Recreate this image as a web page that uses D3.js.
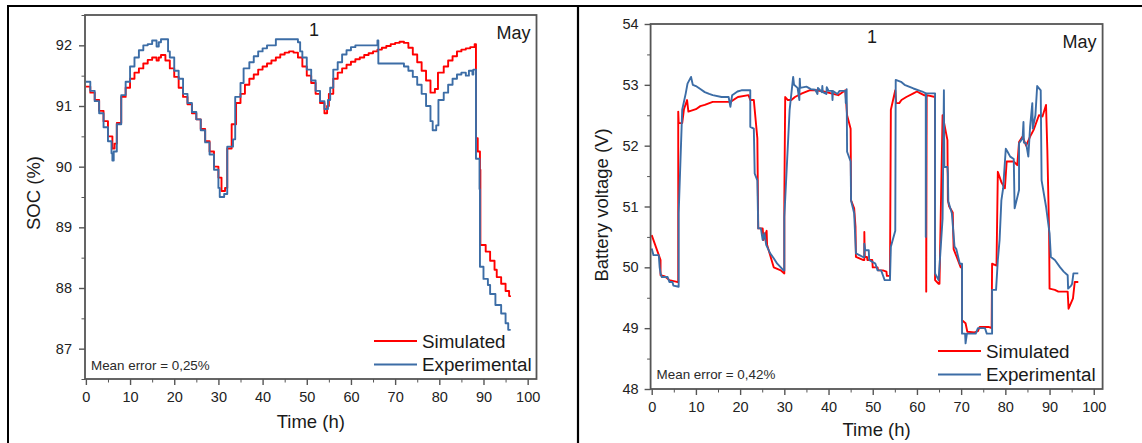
<!DOCTYPE html>
<html>
<head>
<meta charset="utf-8">
<script src="https://cdn.jsdelivr.net/npm/d3@7"></script>
<style>
  html, body { margin: 0; padding: 0; background: #fff; }
  svg { display: block; font-family: "Liberation Sans", Arial, sans-serif; }
  .axis path, .axis line { stroke: #555; }
  .axis text { fill: #222; font-size: 14.5px; }
</style>
</head>
<body>
<svg id="chart" width="1142" height="443"></svg>
<script>
// ---- Data: state of charge (%) over time (h) ----
const socSimulated = [
  [0,91.32],[1,91.22],[2,91.1],[3,90.92],[4,90.75],[5,90.5],[6,90.3],[6.5,90.38],[7,90.72],[8,91.15],
  [9,91.3],[10,91.45],[11,91.55],[12,91.62],[13,91.7],[14,91.76],[15,91.8],[16,91.75],[16.5,91.8],[17,91.84],
  [18,91.75],[19,91.62],[20,91.48],[21,91.3],[22,91.15],[23,91.03],[24,90.88],[25,90.78],[26,90.62],[27,90.42],
  [28,90.25],[29,90.0],[30,89.82],[30.7,89.6],[31.5,89.65],[32,90.3],[33,90.7],[34,91.05],[35,91.2],[36,91.35],
  [37,91.45],[38,91.52],[39,91.6],[40,91.65],[41,91.7],[42,91.75],[43,91.8],[44,91.85],[45,91.88],[46,91.9],
  [47,91.88],[48,91.8],[49,91.65],[50,91.5],[51,91.38],[52,91.2],[53,91.05],[54,90.88],[54.6,91.0],[55,91.2],
  [56,91.45],[57,91.55],[58,91.62],[59,91.68],[60,91.73],[61,91.77],[62,91.8],[63,91.84],[64,91.87],[65,91.9],
  [66,91.93],[67,91.96],[68,91.99],[69,92.02],[70,92.04],[71,92.06],[72,92.04],[73,91.96],[74,91.85],[75,91.72],
  [76,91.58],[77,91.42],[78,91.22],[79,91.28],[79.7,91.55],[81,91.65],[82,91.75],[83,91.82],[84,91.9],[85,91.93],
  [86,91.95],[87,91.97],[88,92.02],[88.3,90.47],[88.7,90.25],[89.2,89.95],[89.3,88.71],[90.5,88.6],[91.5,88.45],
  [92.5,88.3],[93,88.18],[94,88.07],[95,87.95],[95.8,87.87],[96,87.85]
];
const socExperimental = [
  [0,91.4],[1,91.25],[2,91.08],[3,90.88],[4,90.65],[5,90.42],[5.8,90.22],[6,90.1],[6.3,90.25],[7,90.7],
  [8,91.18],[9,91.4],[10,91.65],[11,91.8],[12,91.92],[13,92.0],[14,92.02],[15,92.08],[16,91.98],[16.5,92.05],
  [17,92.1],[18,92.1],[18.6,91.9],[19,91.8],[20,91.58],[21,91.45],[22,91.2],[23,91.05],[24,90.9],[25,90.78],
  [26,90.6],[27,90.4],[28,90.2],[29,89.95],[30,89.65],[30.3,89.5],[31.3,89.55],[32,90.33],[33.3,90.45],[33.8,91.15],
  [35,91.38],[35.7,91.62],[37,91.72],[38,91.82],[39,91.9],[40,91.95],[41,92.0],[43,92.1],[48,92.05],[48.5,91.9],
  [49,91.8],[50,91.6],[51,91.42],[52,91.25],[53,91.08],[54,90.95],[54.8,91.1],[55.3,91.3],[56,91.6],[57,91.72],
  [58,91.85],[59,91.92],[60,91.97],[61,92.0],[66,92.08],[66.2,91.7],[72,91.65],[73,91.58],[74,91.48],[75,91.35],
  [76,91.2],[77,91.0],[78,90.75],[78.5,90.6],[79.3,90.68],[79.8,91.1],[81,91.22],[82,91.35],[83,91.45],[84,91.52],
  [85,91.55],[86,91.5],[86.7,91.58],[87.5,91.52],[87.7,91.6],[88.2,91.6],[88.3,90.13],[89.1,89.63],[89.2,88.35],
  [90,88.15],[91,88.05],[91.5,87.9],[92.7,87.72],[94,87.58],[95,87.42],[95.6,87.31],[96,87.3]
];

// ---- Data: battery voltage (V) over time (h) ----
const voltSimulated = [
  [0,50.53],[2,50.12],[2,49.87],[3,49.85],[4,49.79],[5.7,49.76],[6,49.76],[6,52.56],[6.1,52.37],[6.9,52.37],
  [7.3,52.6],[8,52.75],[8.3,52.56],[10,52.6],[11,52.65],[12,52.67],[13.8,52.72],[17.8,52.72],[19.5,52.8],[21.9,52.83],
  [22.3,52.75],[23.1,52.75],[23.9,52.12],[24.1,50.64],[25.1,50.64],[25.3,50.45],[26,50.6],[26.1,50.37],[27.6,50.0],[29.2,49.95],
  [30,49.9],[30,51.1],[30.2,52.8],[30.8,52.75],[31.6,52.75],[32.4,52.8],[34,52.86],[35.7,52.91],[37.3,52.91],[38.9,52.89],
  [40.6,52.86],[42.2,52.83],[43.8,52.91],[44.2,52.5],[45,52.28],[45.1,51.1],[45.8,50.97],[46.1,50.67],[46.2,50.17],[47.9,50.12],
  [48.1,50.12],[48.1,50.58],[48.2,50.17],[48.7,50.17],[48.8,50.12],[49.9,50.12],[50,50.0],[51.1,50.0],[51.2,49.95],[52.3,49.95],
  [53.1,49.93],[53.2,49.86],[53.9,49.86],[54.1,52.59],[55.1,52.91],[55.3,52.7],[56,52.7],[56.5,52.75],[57.6,52.8],[59.2,52.86],
  [60,52.89],[60.8,52.86],[61.6,52.83],[62.1,52.83],[62.1,49.6],[62.2,52.83],[64.1,52.8],[64.1,49.79],[64.9,49.73],[65.1,49.73],
  [65.8,52.5],[66.9,52.09],[67.0,51.1],[67.3,51.0],[68.1,50.9],[68.3,50.3],[69,50.17],[69.9,50.0],[70.2,50.0],[70.2,49.13],
  [71,49.08],[71.4,48.94],[73,48.93],[73.8,48.95],[74.2,49.02],[76.2,49.02],[76.9,49.0],[77,50.06],[78,50.03],[78.3,51.57],
  [79.1,51.4],[79.9,51.3],[80.3,51.74],[81.9,51.74],[82.7,51.68],[83.1,52.06],[83.9,52.15],[84.7,52.0],[85.6,52.15],[86.4,52.26],
  [86.8,52.34],[87.6,52.5],[88.4,52.48],[89.2,52.67],[89.5,51.93],[89.9,50.56],[90,49.65],[91.2,49.63],[92,49.6],[94.1,49.6],
  [94.3,49.32],[95.3,49.49],[95.7,49.76],[96.5,49.76]
];
const voltExperimental = [
  [0,50.31],[0.4,50.2],[1.6,50.2],[1.8,50.0],[2,49.9],[2.3,49.84],[3.6,49.84],[4,49.76],[4.7,49.76],[4.9,49.7],
  [6.1,49.68],[6.1,50.89],[6.9,52.59],[7.7,52.86],[8.1,53.02],[8.9,53.13],[9.3,53.0],[10,52.98],[11,52.93],[12,52.88],
  [13,52.85],[13.8,52.83],[15.8,52.8],[17.4,52.8],[17.8,52.64],[18.2,52.83],[19.4,52.89],[20.3,52.91],[22.3,52.91],[22.3,52.31],
  [23.1,52.28],[23.3,51.54],[23.9,51.43],[24.1,50.64],[24.7,50.64],[25.1,50.45],[25.5,50.56],[25.9,50.37],[26.8,50.23],[27.6,50.15],
  [28.4,50.06],[29.2,50.0],[29.8,49.95],[30,49.95],[30,50.83],[31.2,52.59],[32,53.13],[32.2,53.0],[33,52.95],[33.4,52.75],
  [33.5,53.1],[33.6,52.95],[35,52.97],[36,52.93],[37,52.92],[37.5,52.85],[37.6,52.95],[38.5,52.88],[38.6,52.98],[38.7,52.88],
  [39.5,52.85],[39.6,52.96],[40,52.9],[40.8,52.9],[40.9,52.75],[41,52.9],[42,52.85],[42.5,52.9],[43.8,52.9],[43.9,52.7],
  [44.1,52.93],[44.2,51.9],[45,51.74],[45.1,51.1],[45.8,50.89],[46.2,50.23],[47.8,50.17],[48.1,50.17],[48.1,50.39],[48.3,50.28],
  [49.1,50.28],[49.2,50.12],[50.6,50.06],[51.1,49.95],[51.9,49.95],[52.3,49.87],[52.7,49.79],[53.9,49.79],[54.1,50.34],[55.1,50.6],
  [55.2,53.08],[56.4,53.05],[57.2,53.0],[59.2,52.94],[60.4,52.91],[61.2,52.89],[62,52.86],[62,50.5],[62.1,52.86],[64.1,52.86],
  [64.1,49.9],[64.9,49.79],[65.8,50.8],[66.1,52.91],[66.2,51.65],[66.9,51.65],[67,51.54],[67.1,51.08],[67.9,50.89],[68.5,50.34],
  [68.9,50.3],[69.7,50.06],[70.2,50.06],[70.2,48.91],[70.9,48.91],[71,48.75],[71.3,48.91],[73.3,48.91],[73.8,49.0],[75.4,49.0],
  [75.8,48.91],[77,48.91],[77,49.63],[77.9,49.63],[78.3,50.12],[78.7,50.45],[79.1,51.1],[79.5,51.3],[80.1,51.95],[80.5,51.9],
  [81.1,51.82],[81.9,51.78],[82.1,50.97],[83.1,51.27],[83.1,52.04],[83.9,52.12],[84.1,52.39],[84.2,52.05],[84.7,52.04],[85.2,51.82],
  [85.6,52.31],[86.1,52.7],[86.2,52.28],[86.8,52.5],[87.2,52.98],[88,52.91],[88.2,51.43],[89.2,51.0],[90,50.56],[90.3,50.17],
  [91.2,50.12],[92.4,50.0],[93.2,49.93],[94.1,49.87],[94.2,49.65],[94.9,49.7],[95.1,49.73],[95.4,49.9],[96.5,49.9]
];

// ---- Axis ticks and labels ----
const timeTicks = [0, 10, 20, 30, 40, 50, 60, 70, 80, 90, 100];
const timeMinorTicks = [5, 15, 25, 35, 45, 55, 65, 75, 85, 95];
const socTicks = [87, 88, 89, 90, 91, 92];
const socMinorTicks = [86.5, 87.5, 88.5, 89.5, 90.5, 91.5, 92.5];
const voltTicks = [48, 49, 50, 51, 52, 53, 54];
const voltMinorTicks = [48.5, 49.5, 50.5, 51.5, 52.5, 53.5];
const seriesNames = ["Simulated", "Experimental"];
const seriesColors = ["#ff0000", "#3c6da6"];

const svg = d3.select("#chart");

// Page frame lines (table borders around the two panels)
svg.append("line").attr("x1", 7).attr("x2", 1142).attr("y1", 6).attr("y2", 6)
  .attr("stroke", "#000").attr("stroke-width", 2.2);
svg.append("line").attr("x1", 8).attr("x2", 8).attr("y1", 5).attr("y2", 443)
  .attr("stroke", "#000").attr("stroke-width", 2);
svg.append("line").attr("x1", 578).attr("x2", 578).attr("y1", 5).attr("y2", 443)
  .attr("stroke", "#000").attr("stroke-width", 2.2);

function panel(cfg) {
  const x = d3.scaleLinear().domain(cfg.xDomain).range([cfg.left, cfg.right]);
  const y = d3.scaleLinear().domain(cfg.yDomain).range([cfg.bottom, cfg.top]);
  const g = svg.append("g");

  const clipId = "clip-" + cfg.id;
  g.append("clipPath").attr("id", clipId).append("rect")
    .attr("x", cfg.left).attr("y", cfg.top)
    .attr("width", cfg.right - cfg.left).attr("height", cfg.bottom - cfg.top);

  // Series lines
  const line = d3.line().x(d => x(d[0])).y(d => y(d[1])).curve(cfg.curve);
  cfg.series.forEach((s, i) => {
    g.append("path").datum(s)
      .attr("clip-path", `url(#${clipId})`)
      .attr("fill", "none")
      .attr("stroke", seriesColors[i])
      .attr("stroke-width", 1.9)
      .attr("stroke-linejoin", "round")
      .attr("d", line);
  });

  // Axes: minor ticks first, then major ticks with labels
  g.append("g").attr("class", "axis").attr("transform", `translate(0,${cfg.bottom})`)
    .call(d3.axisBottom(x).tickValues(timeMinorTicks).tickSize(3.5).tickFormat(""))
    .call(a => a.select(".domain").remove());
  g.append("g").attr("class", "axis").attr("transform", `translate(${cfg.left},0)`)
    .call(d3.axisLeft(y).tickValues(cfg.yMinor).tickSize(3.5).tickFormat(""))
    .call(a => a.select(".domain").remove());
  g.append("g").attr("class", "axis").attr("transform", `translate(0,${cfg.bottom})`)
    .call(d3.axisBottom(x).tickValues(timeTicks).tickSize(6).tickPadding(7).tickFormat(d3.format("d")))
    .call(a => a.select(".domain").remove())
    .selectAll("line").attr("stroke-width", 1.4);
  g.append("g").attr("class", "axis").attr("transform", `translate(${cfg.left},0)`)
    .call(d3.axisLeft(y).tickValues(cfg.yTicks).tickSize(6).tickPadding(cfg.yPad).tickFormat(d3.format("d")))
    .call(a => a.select(".domain").remove())
    .selectAll("line").attr("stroke-width", 1.4);

  // Plot frame
  g.append("rect")
    .attr("x", cfg.left).attr("y", cfg.top)
    .attr("width", cfg.right - cfg.left).attr("height", cfg.bottom - cfg.top)
    .attr("fill", "none").attr("stroke", "#555").attr("stroke-width", 1.8);

  // Axis titles
  g.append("text").attr("x", (cfg.left + cfg.right) / 2).attr("y", cfg.xTitleY)
    .attr("text-anchor", "middle").attr("font-size", 18.5).attr("fill", "#1a1a1a")
    .text("Time (h)");
  g.append("text")
    .attr("transform", `translate(${cfg.yTitleX},${cfg.yTitleY}) rotate(-90)`)
    .attr("text-anchor", "middle").attr("font-size", 18.5).attr("fill", "#1a1a1a")
    .text(cfg.yTitle);

  // Annotations
  g.append("text").attr("x", cfg.oneX).attr("y", cfg.oneY)
    .attr("text-anchor", "middle").attr("font-size", 18).attr("fill", "#1a1a1a").text("1");
  g.append("text").attr("x", cfg.right - 6).attr("y", cfg.mayY)
    .attr("text-anchor", "end").attr("font-size", 18).attr("fill", "#1a1a1a").text("May");
  g.append("text").attr("x", cfg.left + 6).attr("y", cfg.errY)
    .attr("font-size", 13.4).attr("fill", "#2a2a2a").text(cfg.errText);

  // Legend
  seriesNames.forEach((name, i) => {
    const ly = cfg.legY + i * 23.5;
    g.append("line").attr("x1", cfg.legX).attr("x2", cfg.legX + 43)
      .attr("y1", ly).attr("y2", ly)
      .attr("stroke", seriesColors[i]).attr("stroke-width", 1.9);
    g.append("text").attr("x", cfg.legX + 48).attr("y", ly + 6.5)
      .attr("font-size", 18.8).attr("fill", "#1a1a1a").text(name);
  });
}

panel({
  id: "soc",
  left: 85, right: 536.5, top: 15, bottom: 379,
  xDomain: [-0.2, 102], yDomain: [86.5, 92.5],
  yTicks: socTicks, yMinor: socMinorTicks, yPad: 7,
  series: [socSimulated, socExperimental],
  curve: d3.curveStepAfter,
  xTitleY: 428,
  yTitle: "SOC (%)", yTitleX: 40, yTitleY: 193,
  oneX: 314, oneY: 36, mayY: 39,
  errText: "Mean error = 0,25%", errY: 370,
  legX: 374, legY: 341
});

panel({
  id: "volt",
  left: 650.6, right: 1102.6, top: 24, bottom: 389,
  xDomain: [-0.25, 102], yDomain: [48, 54],
  yTicks: voltTicks, yMinor: voltMinorTicks, yPad: 6,
  series: [voltSimulated, voltExperimental],
  curve: d3.curveLinear,
  xTitleY: 436,
  yTitle: "Battery voltage (V)", yTitleX: 607.5, yTitleY: 205,
  oneX: 872, oneY: 43, mayY: 48,
  errText: "Mean error = 0,42%", errY: 379,
  legX: 938, legY: 351
});
</script>
</body>
</html>
